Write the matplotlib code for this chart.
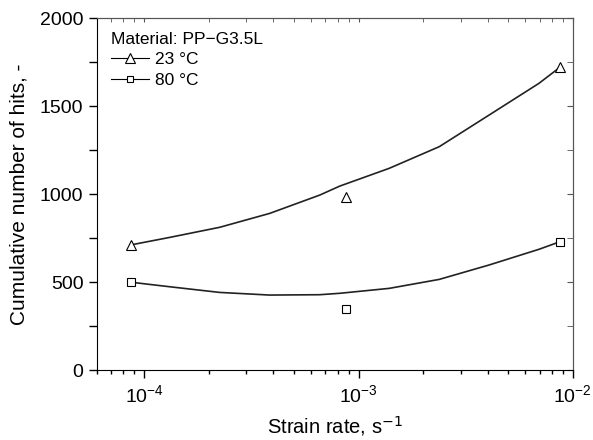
import matplotlib.pyplot as plt
from matplotlib.lines import Line2D

plt.rcParams["font.family"] = ["Liberation Sans", "DejaVu Sans"]

# measured points
strain_rate = [8.7e-5, 8.7e-4, 8.7e-3]
hits_23 = [710, 981, 1723]
hits_80 = [498, 345, 729]

# fitted curves
curve_rate = [8.7e-5, 9.1e-5, 1.32e-4, 2.25e-4, 3.85e-4, 6.59e-4, 8.17e-4,
              1.39e-3, 2.38e-3, 4.07e-3, 6.95e-3, 8.7e-3]
curve_23 = [710, 716, 754, 811, 890, 994, 1045, 1146, 1269, 1449, 1629, 1720]
curve_80 = [498, 496, 473, 441, 426, 428, 436, 464, 515, 597, 686, 729]

fig = plt.figure(figsize=(5.93, 4.40), dpi=100)
ax = fig.add_axes([0.163, 0.159, 0.803, 0.800])

ax.plot(curve_rate, curve_23, color="#222222", linewidth=1.2)
ax.plot(curve_rate, curve_80, color="#222222", linewidth=1.2)

ax.plot(strain_rate, hits_23, linestyle="none", marker="^", markersize=7,
        markerfacecolor="white", markeredgecolor="black", markeredgewidth=0.8)
ax.plot(strain_rate, hits_80, linestyle="none", marker="s", markersize=5.5,
        markerfacecolor="white", markeredgecolor="black", markeredgewidth=0.8)

ax.set_xscale("log")
ax.set_xlim(6.0e-5, 1e-2)
ax.set_ylim(0, 2000)
ax.set_yticks([0, 500, 1000, 1500, 2000])
ax.set_yticks([250, 750, 1250, 1750], minor=True)

ax.tick_params(axis="both", which="major", labelsize=14, direction="out",
               length=6, width=1)
ax.tick_params(axis="both", which="minor", direction="out", length=3, width=1)
ax.tick_params(axis="x", which="major", pad=4)
ax.tick_params(axis="y", which="minor", length=6)

# mirrored ticks on top and right point inward
top = ax.secondary_xaxis("top")
top.tick_params(axis="x", which="both", direction="in", labeltop=False,
                length=3, color="#555555")
top.set_xticklabels([])
right = ax.secondary_yaxis("right")
right.set_yticks([0, 500, 1000, 1500, 2000])
right.set_yticks([250, 750, 1250, 1750], minor=True)
right.tick_params(axis="y", which="both", direction="in", labelright=False,
                  length=4, color="#555555")
right.set_yticklabels([])
for a in (top, right):
    for s in a.spines.values():
        s.set_color("#555555")
ax.spines["top"].set_color("#555555")
ax.spines["right"].set_color("#555555")

ax.set_xlabel("Strain rate, s$^{-1}$", fontsize=14.5, labelpad=6)
ax.set_ylabel("Cumulative number of hits, -", fontsize=15, labelpad=8)

handles = [
    Line2D([], [], color="black", linewidth=0.8, marker="^", markersize=6.5,
           markerfacecolor="white", markeredgecolor="black", markeredgewidth=0.8),
    Line2D([], [], color="black", linewidth=0.8, marker="s", markersize=5,
           markerfacecolor="white", markeredgecolor="black", markeredgewidth=0.8),
]
leg = ax.legend(handles, ["23 °C", "80 °C"], title="Material: PP\u2212G3.5L",
                loc="upper left", frameon=False, fontsize=12.5,
                title_fontsize=12.5, handlelength=2.2, handletextpad=0.35,
                labelspacing=0.3, borderaxespad=0.4, borderpad=0.4)
leg._legend_box.align = "left"

fig.savefig("out.png", dpi=100)
